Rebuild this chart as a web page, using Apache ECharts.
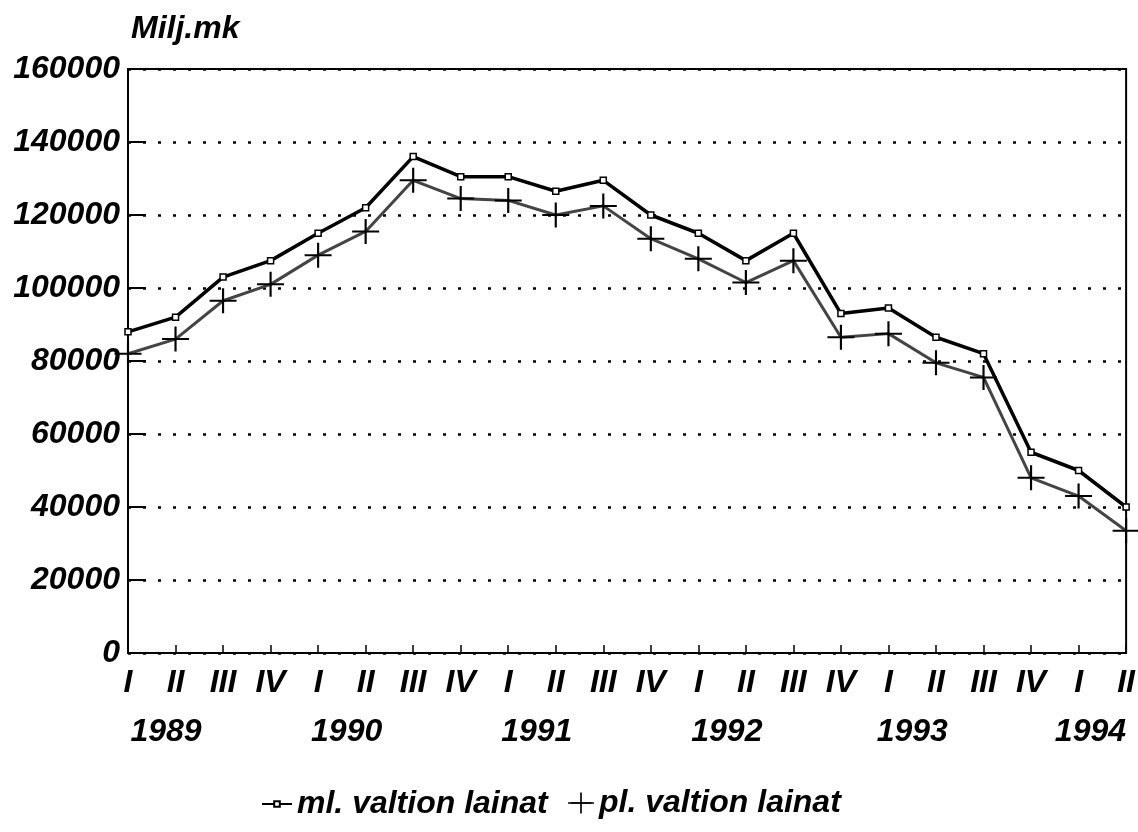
<!DOCTYPE html>
<html>
<head>
<meta charset="utf-8">
<script src="https://cdn.jsdelivr.net/npm/echarts@6/dist/echarts.min.js"></script>
<style>
  html, body { margin: 0; padding: 0; background: #fff; }
  #chart { width: 1138px; height: 832px; }
</style>
</head>
<body>
<div id="chart"></div>
<script>
var quarters = ['I', 'II', 'III', 'IV', 'I', 'II', 'III', 'IV', 'I', 'II', 'III', 'IV',
  'I', 'II', 'III', 'IV', 'I', 'II', 'III', 'IV', 'I', 'II'];
var years = ['1989', '1990', '1991', '1992', '1993', '1994'];
var yearPos = [0.8, 4.6, 8.6, 12.6, 16.5, 20.25];
var mlLainat = [88000, 92000, 103000, 107500, 115000, 122000, 136000, 130500, 130500, 126500, 129500,
  120000, 115000, 107500, 115000, 93000, 94500, 86500, 82000, 55000, 50000, 40000];
var plLainat = [82000, 86000, 96500, 101000, 109000, 115500, 129500, 124500, 124000, 120000, 122500,
  113500, 108000, 101500, 107500, 86500, 87500, 79500, 75500, 48000, 43000, 33500];

initChart();
function initChart(){
  var dom = document.getElementById('chart');
  var myChart = echarts.init(dom, null, { renderer: 'canvas' });

  var font = { fontFamily: 'Liberation Sans', fontWeight: 'bold', fontStyle: 'italic', fontSize: 32, color: '#000' };
  var plus = 'path://M9.2,0 H10.8 V9.2 H20 V10.8 H10.8 V20 H9.2 V10.8 H0 V9.2 H9.2 Z';

  var option = {
    animation: false,
    title: {
      text: 'Milj.mk',
      left: 126,
      top: 8,
      textStyle: font
    },
    grid: {
      left: 128, right: 10, top: 69, bottom: 179,
      show: true, borderColor: '#000', borderWidth: 2
    },
    // two legends so the small square and the big plus can have their own sizes
    legend: [
      {
        left: 256,
        top: 783,
        itemWidth: 30,
        itemHeight: 7,
        itemGap: 0,
        textStyle: font,
        data: ['ml. valtion lainat']
      },
      {
        left: 562,
        top: 782,
        itemWidth: 26,
        itemHeight: 26,
        textStyle: font,
        data: ['pl. valtion lainat']
      }
    ],
    xAxis: [
      {
        type: 'category',
        boundaryGap: false,
        data: quarters,
        axisLine: { lineStyle: { color: '#000', width: 2 } },
        axisTick: { inside: true, length: 8, alignWithLabel: true, lineStyle: { color: '#000', width: 1.5 } },
        axisLabel: Object.assign({ margin: 14, interval: 0 }, font)
      },
      {
        type: 'value',
        position: 'bottom',
        min: 0, max: 21,
        offset: 55,
        axisLine: { show: false },
        axisTick: { show: false },
        splitLine: { show: false },
        axisLabel: Object.assign({
          customValues: yearPos,
          formatter: function (v) {
            var i = yearPos.indexOf(v);
            return i >= 0 ? years[i] : '';
          }
        }, font)
      }
    ],
    yAxis: {
      type: 'value',
      min: 0, max: 160000, interval: 20000,
      axisLine: { show: true, lineStyle: { color: '#000', width: 2 } },
      axisTick: { show: true, inside: true, length: 18, lineStyle: { color: '#000', width: 2 } },
      axisLabel: Object.assign({ margin: 8, formatter: function (v) { return String(v); } }, font),
      splitLine: { show: true, lineStyle: { color: '#000', width: 2.5, type: [3, 12] } }
    },
    series: [
      {
        name: 'ml. valtion lainat',
        type: 'line',
        data: mlLainat,
        symbol: 'rect',
        symbolSize: 6,
        itemStyle: { color: '#fff', borderColor: '#000', borderWidth: 1.5 },
        lineStyle: { color: '#000', width: 3.5 }
      },
      {
        name: 'pl. valtion lainat',
        type: 'line',
        data: plLainat,
        symbol: plus,
        symbolSize: [27, 25],
        itemStyle: { color: '#000' },
        lineStyle: { color: '#444', width: 3 }
      }
    ]
  };

  myChart.setOption(option);
  window.addEventListener('resize', myChart.resize);
}
</script>
</body>
</html>
